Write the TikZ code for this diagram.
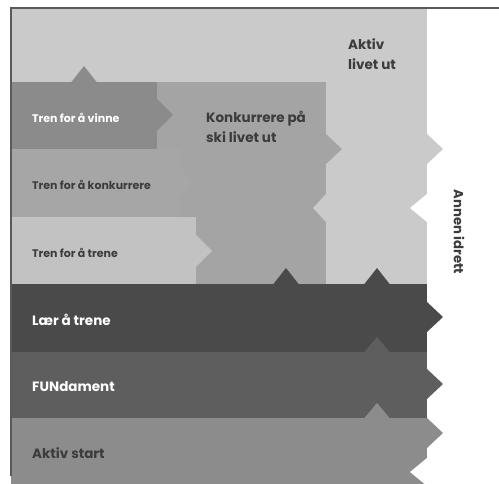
\documentclass[tikz,border=0pt]{standalone}
\usepackage{fontspec}
\setmainfont{Poppins}
\begin{document}
\begin{tikzpicture}[x=1pt,y=-1pt,
  txt/.style={font=\bfseries\fontsize{11}{13}\selectfont, anchor=west, inner sep=0pt},
  bigtxt/.style={font=\bfseries\fontsize{13.5}{15}\selectfont, anchor=west, inner sep=0pt},
  head/.style={font=\bfseries\fontsize{13.5}{20}\selectfont, align=left, anchor=west, inner sep=0pt, text=txtdark},
  frame/.style={draw=framegray, line width=1.2pt}]
\definecolor{aktivlivet}{HTML}{CACACA}
\definecolor{konk}{HTML}{A4A4A4}
\definecolor{vinne}{HTML}{8B8B8B}
\definecolor{konkband}{HTML}{A6A6A6}
\definecolor{trene}{HTML}{C2C2C2}
\definecolor{laer}{HTML}{4A4A4A}
\definecolor{fun}{HTML}{5E5E5E}
\definecolor{start}{HTML}{8C8C8C}
\definecolor{txtdark}{HTML}{3C3C3C}
\definecolor{framegray}{HTML}{5A5A5A}
\useasboundingbox (0,0) rectangle (499,484);
\fill[white] (0,0) rectangle (499,484);
% Aktiv livet ut
\fill[aktivlivet] (11,8) rectangle (427,484);
\fill[aktivlivet] (427,134) -- (443,149) -- (427,164) -- cycle;
\fill[white] (427,194) -- (410,208) -- (427,222) -- cycle;
% Konkurrere paa ski livet ut
\fill[konk] (157,82) rectangle (326,284);
\fill[konk] (326,134) -- (342,149) -- (326,164) -- cycle;
\fill[aktivlivet] (326,194) -- (313,208) -- (326,222) -- cycle;
% Tren for aa vinne
\fill[vinne] (11,82) rectangle (157,149);
\fill[vinne] (157,99) -- (173,115) -- (157,131) -- cycle;
\fill[vinne] (71,82.5) -- (84,66) -- (97,82.5) -- cycle;
% Tren for aa konkurrere
\fill[konkband] (11,149) rectangle (180,217);
\fill[konkband] (180,168) -- (194,183) -- (180,198) -- cycle;
% Tren for aa trene
\fill[trene] (11,217) rectangle (196,284);
\fill[trene] (196,235) -- (212,251) -- (196,267) -- cycle;
% Laer aa trene
\fill[laer] (11,284) rectangle (427,352);
\fill[laer] (427,302) -- (443,317) -- (427,332) -- cycle;
\fill[laer] (273,284.5) -- (286,268) -- (299,284.5) -- cycle;
\fill[laer] (364,284.5) -- (377,268) -- (390,284.5) -- cycle;
% FUNdament
\fill[fun] (11,352) rectangle (427,418);
\fill[fun] (427,369) -- (443,384) -- (427,399) -- cycle;
\fill[fun] (364,352.5) -- (377,337) -- (390,352.5) -- cycle;
% Aktiv start
\fill[start] (11,418) rectangle (427,484);
\fill[start] (427,418) -- (443,433) -- (427,448) -- cycle;
\fill[start] (364,418.5) -- (377,403) -- (390,418.5) -- cycle;
\fill[white] (427,458) -- (410,472) -- (427,486) -- cycle;
% frame
\draw[frame] (11,476) -- (11,8) -- (499,8);
% texts
\node[txt, text=white] (vinne) at (32,118) {Tren for å vinne};
\node[txt, text=txtdark] (konkband) at (32,185) {Tren for å konkurrere};
\node[txt, text=txtdark] (trene) at (32,253) {Tren for å trene};
\node[head] (konk) at (206,127) {Konkurrere på\\ski livet ut};
\node[head] (aktivlivet) at (348,54) {Aktiv\\livet ut};
\node[bigtxt, text=white] (laer) at (32,320) {Lær å trene};
\node[bigtxt, text=white] (fun) at (32,387) {FUNdament};
\node[bigtxt, text=txtdark] (start) at (32,453) {Aktiv start};
\node[font=\bfseries\fontsize{13.2}{15}\selectfont, text=txtdark, rotate=-90, inner sep=0pt] (annen) at (459,232) {Annen idrett};
\end{tikzpicture}
\end{document}
